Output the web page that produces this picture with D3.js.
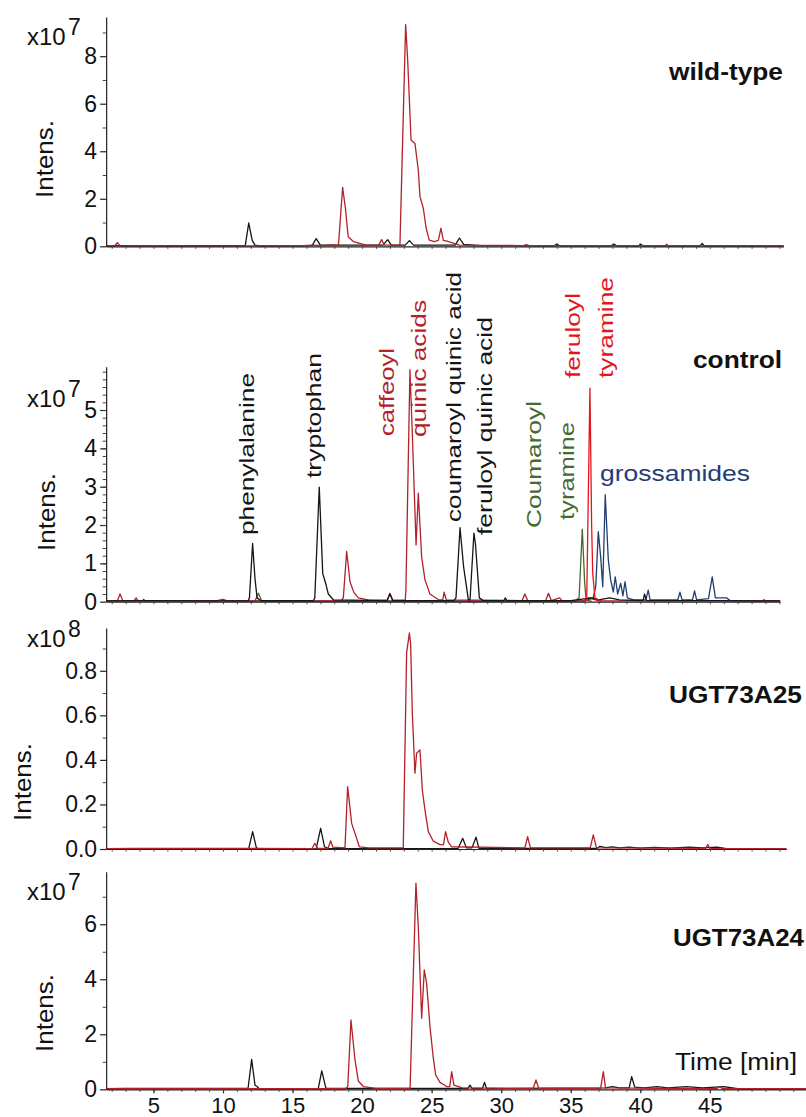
<!DOCTYPE html>
<meta charset="utf-8">
<script src="https://d3js.org/d3.v7.min.js"></script>
<style>
  body { margin: 0; background: #fff; }
  text { font-family: "Liberation Sans", Arial, sans-serif; fill: #111; }
</style>
<div id="chart"></div>
<script>

// ---- data: [time (min), intensity] ----
// wild-type (x10^7)
var wtBlack = [[1.6,0.02],[3,0.03],[5,0.02],[8,0.03],[11.6,0.03],[11.85,0.98],[12.1,0.25],[12.3,0.05],[12.6,0.02],
  [16.4,0.03],[16.7,0.32],[17.0,0.05],[21.5,0.05],[21.84,0.28],[22.1,0.05],[23.1,0.05],[23.4,0.24],[23.7,0.05],
  [26.7,0.05],[27.0,0.35],[27.3,0.08],[28.5,0.03],[33.8,0.02],[34.0,0.1],[34.2,0.02],[37.9,0.02],[38.1,0.1],
  [38.3,0.02],[39.9,0.02],[40.0,0.1],[40.2,0.02],[44.3,0.02],[44.45,0.12],[44.6,0.02],[50.3,0.02]];
var wtRed = [[1.6,0.02],[2.2,0.02],[2.4,0.15],[2.6,0.02],[8,0.02],[15.5,0.02],[16.4,0.05],[17.2,0.03],[17.8,0.06],
  [18.3,0.05],[18.6,2.48],[18.8,1.6],[19.0,0.4],[19.37,0.2],[20.3,0.05],[21.2,0.05],[21.4,0.28],[21.6,0.05],
  [22.72,0.05],[23.13,9.33],[23.28,7.8],[23.52,4.47],[23.8,4.33],[24.04,3.2],[24.16,2.1],[24.4,1.6],[24.6,0.77],
  [24.83,0.26],[25.2,0.2],[25.48,0.25],[25.67,0.76],[25.84,0.25],[26.1,0.22],[26.44,0.15],[27,0.05],[31.6,0.03],
  [31.8,0.07],[32,0.03],[41.8,0.03],[41.9,0.09],[42.0,0.03],[50.3,0.02]];

// control (x10^7)
var ctrlRed = [[1.6,0.02],[2.4,0.02],[2.6,0.2],[2.8,0.02],[3.6,0.02],[3.75,0.1],[3.9,0.02],[9.5,0.02],[10,0.06],
  [10.3,0.02],[18.5,0.03],[18.65,0.1],[18.89,1.31],[19.0,0.95],[19.13,0.52],[19.4,0.25],[19.73,0.1],[20.5,0.04],
  [21.8,0.04],[22.0,0.22],[22.2,0.04],[23.1,0.04],[23.15,0.3],[23.44,6.05],[23.6,4.5],[23.88,1.48],[24.04,2.83],
  [24.28,1.17],[24.52,0.57],[24.88,0.2],[25.5,0.05],[25.8,0.05],[25.9,0.25],[26.05,0.05],[31.5,0.03],[31.7,0.2],
  [31.9,0.03],[33.2,0.03],[33.4,0.22],[33.6,0.03],[34.2,0.1],[34.4,0.02],[36.0,0.02],[36.5,0.08],[37,0.02],[50.05,0.02]];
var ctrlBlack = [[1.6,0.02],[5,0.03],[9,0.02],[11.8,0.02],[11.9,0.1],[12.13,1.52],[12.3,0.6],[12.45,0.1],[12.7,0.03],
  [16.5,0.03],[16.6,0.1],[16.92,2.99],[17.17,0.74],[17.4,0.45],[17.57,0.2],[17.93,0.05],[21.8,0.03],[22.0,0.2],
  [22.2,0.03],[26.6,0.03],[26.75,0.1],[27.04,1.93],[27.3,0.9],[27.64,0.05],[27.76,0.05],[28.04,1.79],[28.15,1.5],
  [28.43,0.1],[28.7,0.03],[30.2,0.03],[30.3,0.1],[30.4,0.03],[35.0,0.03],[36.5,0.1],[37.0,0.05],[37.8,0.1],
  [38.5,0.05],[40.2,0.03],[40.3,0.2],[40.45,0.03],[46,0.03],[50.05,0.02]];
var ctrlGreen = [[11.9,0],[12.3,0.02],[12.54,0.22],[12.8,0.01],[35.3,0.01],[35.6,0.1],[35.83,1.89],[36.0,0.5],[36.1,0.05],[36.5,0.01]];
var ctrlFeruloyl = [[35.9,0.01],[36.15,0.1],[36.38,5.57],[36.5,2.0],[36.58,0.74],[36.74,0.1],[37.2,0.01]];
var ctrlNavy = [[1.6,0.02],[4.2,0.02],[4.3,0.06],[4.4,0.02],[36.0,0.02],[36.3,0.1],[36.6,0.08],[36.8,0.4],[36.98,1.83],
  [37.15,1.17],[37.3,0.39],[37.48,2.79],[37.7,1.09],[37.87,0.57],[38.06,0.25],[38.2,0.65],[38.37,0.2],[38.59,0.48],
  [38.75,0.15],[38.9,0.52],[39.07,0.1],[39.5,0.05],[40.4,0.05],[40.57,0.3],[40.7,0.05],[41.5,0.05],[42.7,0.05],
  [42.85,0.25],[43.0,0.05],[43.75,0.05],[43.9,0.28],[44.05,0.05],[44.9,0.08],[45.17,0.65],[45.4,0.1],[46.2,0.1],
  [46.5,0.02],[48.8,0.02],[48.9,0.05],[49.0,0.02],[50.05,0.02]];

// UGT73A25 (x10^8)
var a25Black = [[1.6,0.002],[4,0.002],[11.85,0.002],[12.13,0.078],[12.4,0.005],[12.6,0.001],[16.7,0.002],[17.02,0.093],
  [17.3,0.01],[17.6,0.002],[26.9,0.002],[27.23,0.048],[27.5,0.005],[27.9,0.005],[28.19,0.053],[28.4,0.003],[36.9,0.003],
  [37.1,0.012],[37.5,0.006],[38.0,0.01],[38.5,0.005],[39.2,0.008],[40.0,0.004],[41.0,0.007],[42.2,0.004],[43.5,0.008],
  [44.5,0.005],[45.5,0.008],[46.2,0.002],[50.5,0.001]];
var a25Red = [[1.6,0.002],[3.5,0.003],[16.4,0.002],[16.6,0.026],[16.8,0.003],[17.55,0.003],[17.74,0.037],[17.9,0.008],
  [18.77,0.005],[18.96,0.28],[19.1,0.2],[19.25,0.115],[19.49,0.07],[19.8,0.01],[20.5,0.005],[22.96,0.005],[23.2,0.88],
  [23.4,0.97],[23.49,0.92],[23.61,0.61],[23.8,0.34],[23.92,0.43],[24.16,0.445],[24.33,0.265],[24.52,0.175],[24.76,0.078],
  [25.12,0.035],[25.6,0.02],[25.85,0.02],[26.0,0.078],[26.2,0.03],[26.44,0.01],[31.7,0.005],[31.9,0.055],[32.1,0.005],
  [36.4,0.005],[36.62,0.063],[36.85,0.005],[44.7,0.003],[44.85,0.02],[45.0,0.003],[50.5,0.001]];

// UGT73A24 (x10^7)
var a24Black = [[1.6,0.02],[3,0.03],[11.8,0.03],[12.06,1.09],[12.3,0.15],[12.45,0.1],[12.6,0.02],[16.85,0.03],[17.1,0.67],
  [17.4,0.03],[27.6,0.03],[27.76,0.15],[27.9,0.03],[28.65,0.03],[28.8,0.25],[28.95,0.03],[37.5,0.05],[38.0,0.1],[38.5,0.05],
  [39.2,0.05],[39.38,0.46],[39.6,0.08],[40.3,0.05],[41.2,0.1],[42,0.05],[43.3,0.1],[44.5,0.05],[46,0.1],[47,0.02],[51.9,0.02]];
var a24Red = [[1.6,0.02],[18.8,0.02],[18.97,0.1],[19.2,2.52],[19.49,1.07],[19.73,0.3],[20.09,0.1],[21,0.03],[23.45,0.03],
  [23.87,7.49],[24.04,5.91],[24.28,2.58],[24.47,4.34],[24.64,3.85],[24.88,2.28],[25.12,1.13],[25.29,0.52],[25.6,0.25],
  [26.08,0.1],[26.3,0.1],[26.44,0.64],[26.6,0.15],[27.2,0.05],[32.3,0.03],[32.5,0.34],[32.7,0.03],[37.15,0.03],[37.34,0.64],
  [37.5,0.05],[45.5,0.02],[45.7,0.1],[45.9,0.02],[51.9,0.02]];

var timeTicks = [5, 10, 15, 20, 25, 30, 35, 40, 45];

// ---- layout ----
var svg = d3.select("#chart").append("svg")
    .attr("width", 806).attr("height", 1117);

var colBlack = "#151515", colRed = "#b3222b", colBright = "#e3161d",
    colGreen = "#47682f", colNavy = "#233c73";

var xBase = d3.scaleLinear().domain([0, 50]).range([83.9, 779.4]);
var tStart = 1.6;

var panels = [
  { label: "wild-type", labelX: 669, labelY: 80, labelLen: 114,
    top: 17, base: 246.3, ymax: 9.65, major: [0,2,4,6,8], minor: [1,3,5,7,9], fmt: d3.format("d"),
    tEnd: 50.3, exp: "7", expY: 45, intensX: 53, intensY: 159,
    series: [[wtBlack, colBlack], [wtRed, colRed]] },
  { label: "control", labelX: 693, labelY: 368, labelLen: 89,
    top: 366.7, base: 601.7, ymax: 6.13, major: [0,1,2,3,4,5], minor: d3.range(0.2, 6.1, 0.2), fmt: d3.format("d"),
    tEnd: 50.05, exp: "7", expY: 406.7, intensX: 55, intensY: 512,
    series: [[ctrlGreen, colGreen], [ctrlNavy, colNavy], [ctrlRed, colRed], [ctrlBlack, colBlack], [ctrlFeruloyl, colBright]] },
  { label: "UGT73A25", labelX: 669, labelY: 703, labelLen: 133,
    top: 628, base: 849, ymax: 0.992, major: [0,0.2,0.4,0.6,0.8], minor: [0.1,0.3,0.5,0.7,0.9], fmt: d3.format(".1f"),
    tEnd: 50.5, exp: "8", expY: 646.7, intensX: 31, intensY: 782,
    series: [[a25Black, colBlack], [a25Red, colRed]] },
  { label: "UGT73A24", labelX: 673, labelY: 946, labelLen: 131,
    top: 871.7, base: 1089.3, ymax: 7.91, major: [0,2,4,6], minor: [1,3,5,7], fmt: d3.format("d"),
    tEnd: 51.9, exp: "7", expY: 900, intensX: 53, intensY: 1013,
    series: [[a24Black, colBlack], [a24Red, colRed]], last: true }
];

panels.forEach(function(p) {
  var x = xBase.copy().domain([tStart, p.tEnd]).range([xBase(tStart), xBase(p.tEnd)]);
  var y = d3.scaleLinear().domain([0, p.ymax]).range([p.base, p.top]);
  var g = svg.append("g");

  // traces
  var line = d3.line().x(function(d) { return x(d[0]); }).y(function(d) { return y(d[1]); });
  p.series.forEach(function(s) {
    g.append("path").datum(s[0])
      .attr("d", line)
      .attr("fill", "none")
      .attr("stroke", s[1])
      .attr("stroke-width", 1.3)
      .attr("stroke-linejoin", "round");
  });

  // y axis
  var ya = g.append("g").attr("transform", "translate(" + x(tStart) + ",0)")
    .call(d3.axisLeft(y).tickValues(p.major).tickFormat(p.fmt).tickSize(6).tickPadding(3).tickSizeOuter(0));
  ya.selectAll("text").style("font-size", "23px").attr("fill", "#111");
  ya.selectAll("path, line").attr("stroke", "#222").attr("stroke-width", 1.2);
  var ym = g.append("g").attr("transform", "translate(" + x(tStart) + ",0)")
    .call(d3.axisLeft(y).tickValues(p.minor).tickFormat("").tickSize(3.5).tickSizeOuter(0));
  ym.select(".domain").remove();
  ym.selectAll("line").attr("stroke", "#444");

  // x axis
  var xa = g.append("g").attr("transform", "translate(0," + p.base + ")")
    .call(d3.axisBottom(x).tickValues(p.last ? timeTicks : []).tickFormat(d3.format("d"))
      .tickSize(4).tickPadding(4).tickSizeOuter(0));
  xa.selectAll("text").style("font-size", "22px").attr("fill", "#111");
  xa.selectAll("path, line").attr("stroke", "#222").attr("stroke-width", 1.2);
  var xm = g.append("g").attr("transform", "translate(0," + p.base + ")")
    .call(d3.axisBottom(x).tickValues(d3.range(2, Math.floor(p.tEnd) + 1, 1)).tickFormat("").tickSize(2.5).tickSizeOuter(0));
  xm.select(".domain").remove();
  xm.selectAll("line").attr("stroke", "#444");

  // multiplier label
  g.append("text").attr("x", 27).attr("y", p.expY).style("font-size", "24px").text("x10");
  g.append("text").attr("x", 68).attr("y", p.expY - 10).style("font-size", "23px").text(p.exp);

  g.append("text")
    .attr("transform", "translate(" + p.intensX + "," + p.intensY + ") rotate(-90)")
    .attr("text-anchor", "middle")
    .attr("textLength", 78).attr("lengthAdjust", "spacingAndGlyphs")
    .style("font-size", "24px").text("Intens.");

  g.append("text").attr("x", p.labelX).attr("y", p.labelY)
    .attr("textLength", p.labelLen).attr("lengthAdjust", "spacingAndGlyphs")
    .style("font-size", "24px").style("font-weight", "bold").text(p.label);
});

// time axis title
svg.append("text").attr("x", 675).attr("y", 1070)
  .attr("textLength", 122).attr("lengthAdjust", "spacingAndGlyphs")
  .style("font-size", "23px").text("Time [min]");

// compound annotations in the control panel
var annot = [
  { t: "phenylalanine", x: 254, y: 535, len: 162, c: colBlack },
  { t: "tryptophan", x: 321, y: 478, len: 125, c: colBlack },
  { t: "caffeoyl", x: 394, y: 436, len: 88, c: colRed },
  { t: "quinic acids", x: 426, y: 437, len: 137, c: colRed },
  { t: "coumaroyl quinic acid", x: 461, y: 522, len: 250, c: colBlack },
  { t: "feruloyl quinic acid", x: 492, y: 535, len: 218, c: colBlack },
  { t: "Coumaroyl", x: 541, y: 528, len: 127, c: colGreen },
  { t: "tyramine", x: 574, y: 520, len: 98, c: colGreen },
  { t: "feruloyl", x: 580, y: 378, len: 85, c: colBright },
  { t: "tyramine", x: 613, y: 378, len: 101, c: colBright }
];
annot.forEach(function(a) {
  svg.append("text")
    .attr("transform", "translate(" + a.x + "," + a.y + ") rotate(-90)")
    .attr("textLength", a.len).attr("lengthAdjust", "spacingAndGlyphs")
    .style("font-size", "21px").style("fill", a.c).text(a.t);
});
svg.append("text").attr("x", 600).attr("y", 481)
  .attr("textLength", 150).attr("lengthAdjust", "spacingAndGlyphs")
  .style("font-size", "22px").style("fill", colNavy).text("grossamides");

</script>
